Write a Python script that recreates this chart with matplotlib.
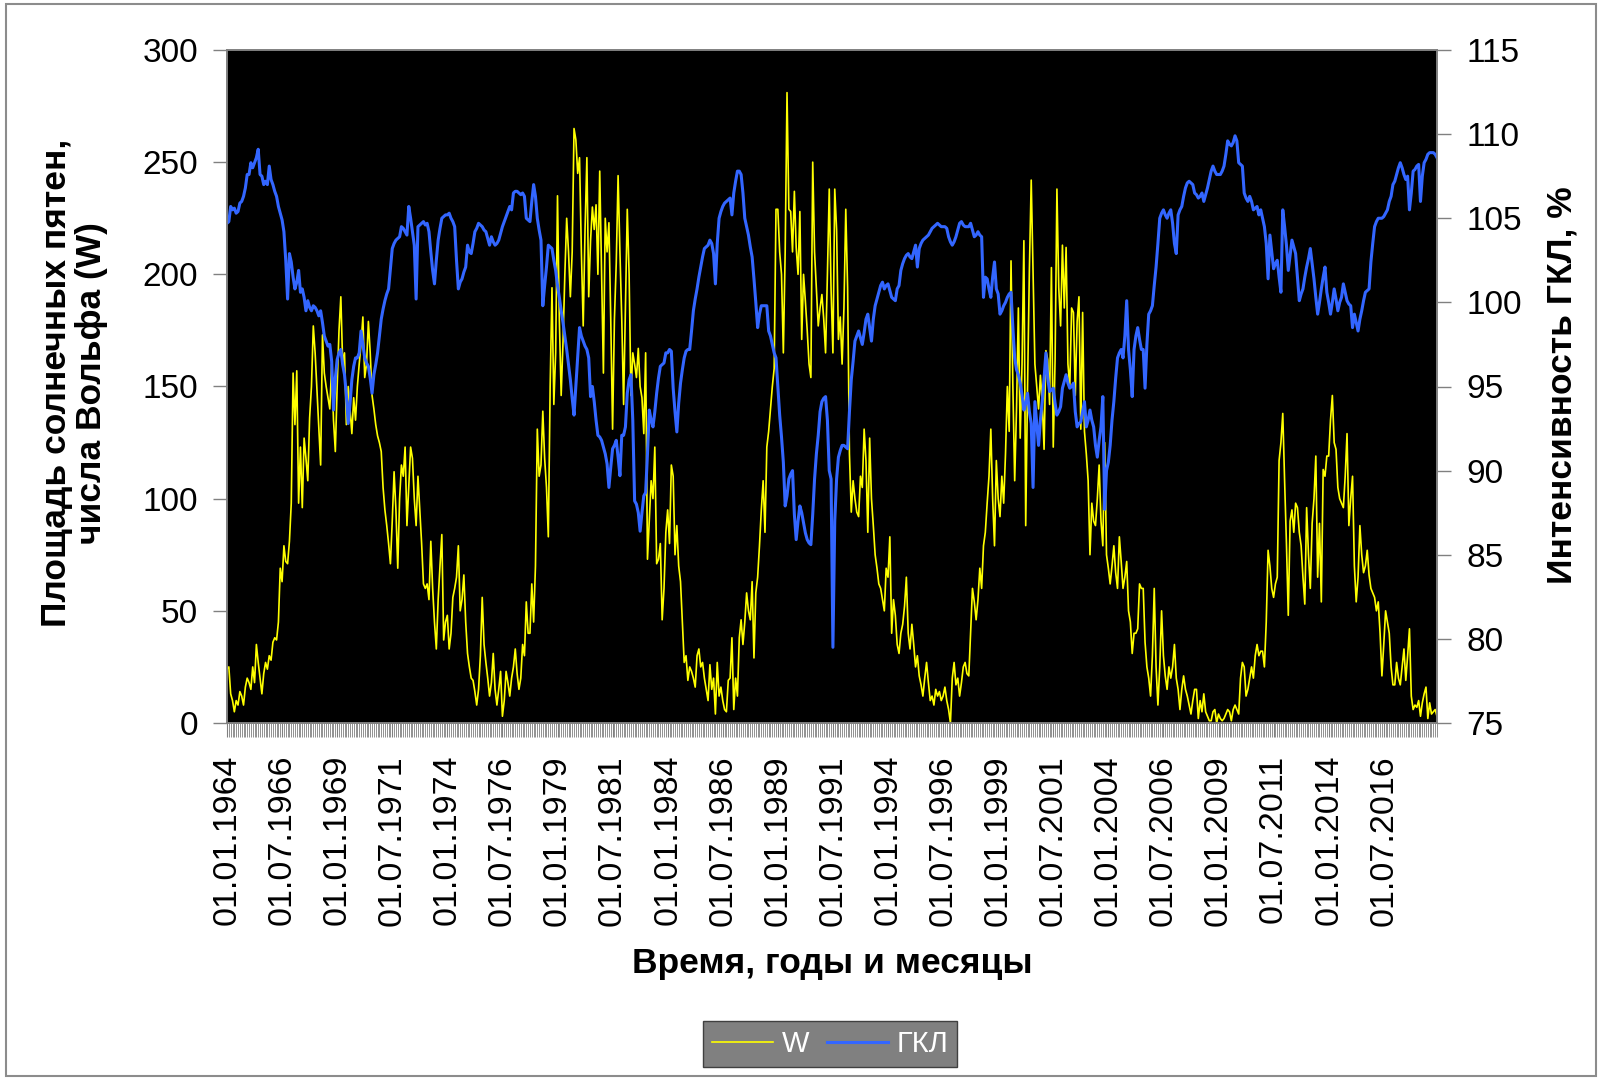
import numpy as np
import matplotlib.pyplot as plt
from matplotlib.patches import Rectangle

# Числа Вольфа (W), помесячно, 01.1964 - 12.2018
w_values = [
    24, 25, 13, 10, 5, 10, 8, 14, 12, 8, 16, 20,            # 1964
    18, 15, 25, 18, 35, 27, 20, 13, 22, 27, 24, 30,         # 1965
    28, 36, 38, 37, 45, 69, 63, 79, 72, 71, 81, 98,         # 1966
    156, 133, 157, 98, 123, 96, 127, 118, 108, 136, 150, 177,  # 1967
    165, 148, 130, 115, 173, 156, 150, 145, 140, 160, 135, 121,  # 1968
    150, 175, 190, 160, 165, 133, 150, 140, 129, 145, 135, 150,  # 1969
    160, 169, 181, 154, 160, 179, 165, 146, 140, 133, 128, 125,  # 1970
    121, 105, 95, 88, 80, 71, 90, 112, 95, 69, 100, 115,    # 1971
    110, 123, 88, 105, 123, 118, 100, 88, 110, 95, 80, 62,  # 1972
    60, 62, 55, 81, 60, 45, 33, 55, 70, 84, 37, 45,         # 1973
    48, 33, 40, 56, 60, 65, 79, 50, 55, 66, 45, 31,         # 1974
    25, 20, 19, 14, 8, 15, 30, 56, 35, 27, 20, 12,          # 1975
    18, 31, 15, 8, 15, 23, 3, 10, 23, 18, 12, 20,           # 1976
    25, 33, 22, 15, 20, 35, 30, 54, 40, 40, 62, 45,         # 1977
    70, 131, 110, 115, 139, 118, 105, 83, 150, 194, 142, 165,  # 1978
    235, 180, 146, 170, 200, 225, 210, 190, 210, 265, 260, 245,  # 1979
    252, 210, 177, 220, 252, 190, 215, 230, 220, 231, 200, 246,  # 1980
    200, 156, 225, 210, 223, 180, 131, 180, 205, 244, 210, 180,  # 1981
    142, 185, 229, 200, 146, 165, 160, 154, 167, 150, 145, 129,  # 1982
    165, 73, 90, 108, 100, 123, 71, 73, 80, 46, 60, 85,     # 1983
    95, 80, 115, 110, 75, 88, 70, 63, 45, 27, 30, 19,       # 1984
    25, 23, 20, 16, 30, 33, 25, 27, 20, 15, 10, 26,         # 1985
    15, 20, 4, 27, 12, 16, 10, 6, 5, 19, 20, 38,            # 1986
    6, 20, 12, 38, 46, 35, 45, 58, 50, 46, 63, 29,          # 1987
    58, 65, 79, 95, 108, 85, 123, 130, 140, 150, 158, 229,  # 1988
    229, 210, 200, 165, 210, 281, 229, 228, 210, 237, 212, 200,  # 1989
    228, 171, 200, 188, 175, 160, 154, 250, 210, 193, 177, 185,  # 1990
    191, 180, 165, 200, 238, 193, 165, 238, 220, 171, 181, 160,  # 1991
    185, 229, 194, 120, 94, 108, 100, 94, 92, 110, 105, 131,  # 1992
    117, 85, 127, 100, 88, 75, 69, 62, 60, 55, 50, 69,      # 1993
    65, 83, 40, 55, 48, 35, 31, 40, 44, 52, 65, 40,         # 1994
    33, 44, 35, 25, 30, 21, 17, 12, 20, 27, 18, 10,         # 1995
    12, 8, 15, 12, 14, 10, 12, 16, 10, 6, 0, 20,            # 1996
    27, 17, 20, 12, 18, 25, 27, 22, 21, 40, 60, 54,         # 1997
    46, 55, 69, 60, 79, 85, 98, 110, 131, 100, 79, 117,     # 1998
    100, 92, 110, 98, 120, 150, 130, 206, 150, 108, 140, 185,  # 1999
    127, 160, 215, 88, 150, 202, 242, 200, 160, 150, 140, 155,  # 2000
    143, 122, 166, 162, 142, 203, 123, 162, 238, 194, 177, 213,  # 2001
    185, 212, 160, 150, 185, 183, 146, 179, 190, 131, 183, 130,  # 2002
    120, 108, 75, 98, 90, 88, 100, 115, 90, 79, 125, 75,    # 2003
    69, 62, 70, 79, 67, 60, 83, 72, 60, 65, 72, 50,         # 2004
    45, 31, 40, 40, 42, 62, 60, 60, 36, 25, 20, 12,         # 2005
    30, 60, 25, 8, 25, 50, 30, 21, 15, 25, 20, 25,          # 2006
    35, 20, 15, 6, 15, 21, 15, 12, 8, 4, 10, 15,            # 2007
    15, 2, 10, 5, 13, 5, 3, 1, 1, 5, 6, 0,                  # 2008
    4, 2, 1, 2, 4, 6, 5, 1, 6, 8, 6, 4,                     # 2009
    20, 27, 25, 12, 15, 20, 25, 20, 30, 35, 30, 32,         # 2010
    32, 25, 45, 77, 70, 60, 56, 62, 65, 117, 125, 138,      # 2011
    108, 80, 48, 90, 95, 85, 98, 96, 85, 79, 65, 53,        # 2012
    96, 75, 60, 89, 100, 119, 65, 89, 54, 113, 110, 119,    # 2013
    119, 135, 146, 125, 122, 105, 100, 98, 96, 110, 129, 88,  # 2014
    100, 110, 70, 54, 65, 88, 75, 67, 70, 77, 66, 60,       # 2015
    58, 56, 50, 54, 40, 21, 35, 50, 45, 40, 25, 17,         # 2016
    17, 27, 20, 17, 25, 33, 19, 30, 42, 12, 6, 8,           # 2017
    7, 10, 3, 9, 13, 16, 2, 9, 4, 5, 6, 3,                  # 2018
]

# Интенсивность ГКЛ, %
gkl_values = [
    104.7, 104.8, 105.7, 105.5, 105.6, 105.3, 105.4, 105.9, 106.0, 106.3, 106.8, 107.6,  # 1964
    107.6, 108.3, 108.0, 108.3, 108.6, 109.1, 107.6, 107.5, 107.0, 107.2, 107.0, 108.1,  # 1965
    107.3, 107.0, 106.6, 106.3, 105.7, 105.3, 104.9, 104.2, 102.5, 100.2, 102.9, 102.4,  # 1966
    101.5, 100.8, 101.2, 101.9, 100.6, 100.8, 100.3, 99.5, 100.1, 99.7, 99.5, 99.8,      # 1967
    99.7, 99.5, 99.2, 99.5, 98.8, 98.0, 97.7, 97.4, 97.5, 96.5, 93.6, 95.5,              # 1968
    96.6, 97.0, 97.2, 96.3, 95.7, 94.5, 92.8, 94.0, 95.4, 96.2, 96.7, 96.7,              # 1969
    97.0, 98.3, 97.5, 96.7, 96.4, 96.2, 95.5, 94.6, 95.7, 96.3, 97.0, 98.0,              # 1970
    99.0, 99.6, 100.1, 100.5, 100.8, 102.0, 103.2, 103.5, 103.7, 103.8, 103.9, 104.5,    # 1971
    104.4, 104.2, 104.0, 105.7, 105.0, 104.2, 103.4, 100.2, 104.5, 104.6, 104.7, 104.8,  # 1972
    104.6, 104.7, 104.2, 103.0, 101.9, 101.1, 102.5, 103.7, 104.4, 105.0, 105.1, 105.2,  # 1973
    105.2, 105.3, 105.0, 104.8, 104.5, 102.5, 100.8, 101.2, 101.4, 101.8, 102.1, 103.4,  # 1974
    103.0, 102.9, 103.5, 104.2, 104.4, 104.7, 104.6, 104.5, 104.3, 104.2, 103.8, 103.4,  # 1975
    103.9, 103.6, 103.4, 103.5, 103.7, 104.1, 104.5, 104.8, 105.1, 105.4, 105.7, 105.5,  # 1976
    106.5, 106.6, 106.6, 106.5, 106.4, 106.5, 106.3, 105.0, 104.9, 104.8, 106.0, 107.0,  # 1977
    106.3, 105.0, 104.3, 103.7, 99.8, 101.0, 102.1, 103.4, 103.3, 103.2, 102.5, 101.9,   # 1978
    101.0, 100.3, 99.5, 98.8, 98.0, 97.2, 96.3, 95.4, 94.3, 93.3, 95.0, 96.7,            # 1979
    98.5, 98.0, 97.7, 97.4, 97.2, 96.7, 94.4, 95.0, 94.1, 93.0, 92.1, 92.0,              # 1980
    91.8, 91.4, 91.0, 90.4, 89.0, 90.2, 91.3, 91.5, 91.8, 90.8, 89.7, 92.1,              # 1981
    92.1, 92.6, 94.6, 95.4, 95.7, 93.0, 88.2, 88.0, 87.5, 86.4, 87.5, 88.5,              # 1982
    88.7, 91.0, 93.6, 93.0, 92.6, 93.5, 94.6, 95.5, 96.2, 96.3, 96.4, 97.0,              # 1983
    97.0, 97.2, 97.1, 94.9, 93.5, 92.3, 94.0, 95.2, 96.0, 96.7, 97.1, 97.2,              # 1984
    97.2, 98.3, 99.5, 100.2, 100.8, 101.5, 102.1, 102.7, 103.2, 103.3, 103.4, 103.7,     # 1985
    103.5, 102.9, 101.1, 103.5, 105.0, 105.4, 105.7, 105.9, 106.0, 106.1, 106.2, 105.2,  # 1986
    106.5, 107.2, 107.8, 107.8, 107.6, 106.5, 105.0, 104.5, 104.0, 103.3, 102.7, 101.4,  # 1987
    100.0, 98.5, 99.3, 99.8, 99.8, 99.8, 99.8, 98.3, 98.0, 97.5, 97.0, 96.7,             # 1988
    95.0, 93.3, 92.0, 90.5, 87.9, 88.5, 89.5, 89.8, 90.0, 87.4, 85.9, 87.0,              # 1989
    87.9, 87.5, 86.9, 86.3, 85.9, 85.7, 85.6, 87.4, 89.5, 91.0, 92.1, 93.5,              # 1990
    94.1, 94.3, 94.4, 93.0, 90.0, 89.5, 79.5, 87.0, 89.5, 90.8, 91.2, 91.5,              # 1991
    91.5, 91.4, 91.3, 93.5, 95.4, 96.5, 97.7, 98.0, 98.3, 97.9, 97.5, 98.2,              # 1992
    99.0, 99.3, 98.5, 97.7, 99.0, 99.8, 100.2, 100.6, 101.0, 101.2, 100.8, 101.0,        # 1993
    101.1, 100.7, 100.3, 100.2, 100.1, 100.8, 101.0, 101.9, 102.3, 102.6, 102.8, 102.9,  # 1994
    102.7, 102.6, 103.0, 103.4, 102.1, 103.2, 103.5, 103.7, 103.8, 103.9, 104.0, 104.2,  # 1995
    104.4, 104.5, 104.6, 104.7, 104.6, 104.5, 104.5, 104.5, 104.4, 103.9, 103.6, 103.4,  # 1996
    103.6, 103.9, 104.3, 104.7, 104.8, 104.6, 104.5, 104.5, 104.5, 104.7, 104.3, 103.9,  # 1997
    104.0, 104.2, 104.0, 103.9, 100.3, 101.5, 101.4, 100.8, 100.3, 101.5, 102.4, 100.8,  # 1998
    100.5, 99.3, 99.5, 99.8, 100.0, 100.3, 100.5, 100.6, 98.5, 96.7, 96.0, 95.7,         # 1999
    95.2, 94.5, 93.6, 94.0, 94.6, 93.5, 92.8, 89.0, 94.1, 92.8, 91.5, 93.0,              # 2000
    94.1, 95.5, 97.0, 95.5, 94.7, 94.8, 94.9, 94.0, 93.3, 93.5, 93.8, 94.9,              # 2001
    95.3, 95.7, 95.2, 94.9, 95.0, 95.2, 93.5, 92.6, 92.8, 92.9, 93.5, 94.1,              # 2002
    92.6, 93.0, 93.6, 93.0, 92.6, 91.5, 90.8, 91.8, 92.6, 94.4, 87.7, 90.0,              # 2003
    90.5, 91.5, 93.0, 94.1, 95.5, 96.7, 97.0, 97.2, 96.7, 98.0, 100.1, 97.2,             # 2004
    96.0, 94.4, 97.2, 98.0, 98.5, 97.8, 97.2, 97.2, 94.9, 97.5, 99.3, 99.5,              # 2005
    99.8, 101.0, 102.1, 103.5, 105.0, 105.3, 105.5, 105.2, 105.0, 105.3, 105.5, 104.7,   # 2006
    103.5, 102.9, 105.2, 105.5, 105.7, 106.3, 106.8, 107.1, 107.2, 107.1, 107.0, 106.5,  # 2007
    106.4, 106.2, 106.3, 106.5, 106.0, 106.4, 106.8, 107.3, 107.8, 108.1, 107.8, 107.6,  # 2008
    107.6, 107.6, 107.8, 108.1, 108.8, 109.6, 109.4, 109.3, 109.5, 109.9, 109.6, 108.3,  # 2009
    108.2, 108.1, 106.5, 106.2, 106.0, 106.3, 106.0, 105.5, 105.6, 105.7, 105.2, 105.5,  # 2010
    105.0, 104.5, 103.5, 101.4, 104.0, 103.0, 102.0, 102.3, 102.5, 101.5, 100.6, 105.5,  # 2011
    104.5, 103.4, 101.9, 102.8, 103.7, 103.3, 102.9, 101.5, 100.1, 100.5, 100.8, 101.5,  # 2012
    102.1, 102.6, 103.2, 102.3, 101.4, 100.3, 99.3, 100.0, 100.8, 101.5, 102.1, 100.6,   # 2013
    100.0, 99.3, 100.0, 100.8, 100.2, 99.5, 100.0, 100.3, 101.1, 100.6, 100.1, 99.9,     # 2014
    99.8, 98.5, 99.3, 98.8, 98.3, 99.0, 99.5, 100.1, 100.6, 100.7, 100.8, 102.4,         # 2015
    103.5, 104.5, 104.8, 105.0, 105.0, 105.0, 105.1, 105.3, 105.5, 106.0, 106.3, 107.0,  # 2016
    107.2, 107.6, 108.0, 108.3, 108.0, 107.6, 107.3, 107.5, 105.5, 106.5, 107.8, 107.9,  # 2017
    108.1, 108.2, 106.0, 107.5, 108.3, 108.5, 108.8, 108.9, 108.9, 108.9, 108.8, 108.6,  # 2018
]

tick_labels = ['01.01.1964', '01.07.1966', '01.01.1969', '01.07.1971', '01.01.1974',
               '01.07.1976', '01.01.1979', '01.07.1981', '01.01.1984', '01.07.1986',
               '01.01.1989', '01.07.1991', '01.01.1994', '01.07.1996', '01.01.1999',
               '01.07.2001', '01.01.2004', '01.07.2006', '01.01.2009', '01.07.2011',
               '01.01.2014', '01.07.2016']

plt.rcParams['font.family'] = ['Liberation Sans', 'DejaVu Sans']

months = np.arange(len(w_values))
tick_pos = np.arange(len(tick_labels)) * 30

fig = plt.figure(figsize=(16.01, 10.8), dpi=100)
fig.patches.append(Rectangle((6/1601, 4/1080), 1590/1601, 1072/1080, transform=fig.transFigure,
                             fill=False, edgecolor='#8c8c8c', linewidth=1.5))

ax = fig.add_axes([227/1601, 1 - 723/1080, 1210/1601, 673/1080])
ax.set_facecolor('black')
line_w, = ax.plot(months, w_values, color='#ffff00', lw=1.2, label='W')
ax.set_xlim(0, len(w_values) - 1)
ax.set_ylim(0, 300)
ax.set_yticks(np.arange(0, 301, 50))

ax2 = ax.twinx()
line_g, = ax2.plot(months, gkl_values, color='#3366ff', lw=2.2, label='ГКЛ')
ax2.set_ylim(75, 115)
ax2.set_yticks(np.arange(75, 116, 5))

ax.set_xticks(tick_pos)
ax.set_xticklabels(tick_labels, rotation=90)
ax.set_xticks(months, minor=True)

for a in (ax, ax2):
    for s in a.spines.values():
        s.set_color('#808080')
        s.set_linewidth(1.2)

ax.tick_params(axis='y', labelsize=24, length=10, width=1, color='#808080', pad=11)
ax2.tick_params(axis='y', labelsize=24, length=10, width=1, color='#808080', pad=11)
ax.tick_params(axis='x', which='major', labelsize=24.5, length=10, width=0.8, color='#808080', pad=13)
ax.tick_params(axis='x', which='minor', length=10, width=0.6, color='#808080')

fig.text(74/1601, 1 - 383/1080, 'Площадь солнечных пятен,\nчисла Вольфа (W)', rotation=90,
         ha='center', va='center', fontsize=25.5, fontweight='bold', linespacing=1.1)
fig.text(1562/1601, 1 - 385/1080, 'Интенсивность ГКЛ, %', rotation=90,
         ha='center', va='center', fontsize=25.5, fontweight='bold')
fig.text(832/1601, 1 - 963/1080, 'Время, годы и месяцы',
         ha='center', va='center', fontsize=25.5, fontweight='bold')

leg = fig.legend(handles=[line_w, line_g], loc='center', bbox_to_anchor=(830/1601, 1 - 1044/1080),
                 ncol=2, fontsize=21, frameon=True, fancybox=False, facecolor='#808080',
                 edgecolor='#404040', framealpha=1, labelcolor='white', handlelength=2.1,
                 handletextpad=0.3, columnspacing=0.6, borderpad=0.3)
leg.get_frame().set_linewidth(1.0)

fig.savefig('out.png', dpi=100, facecolor='white')
